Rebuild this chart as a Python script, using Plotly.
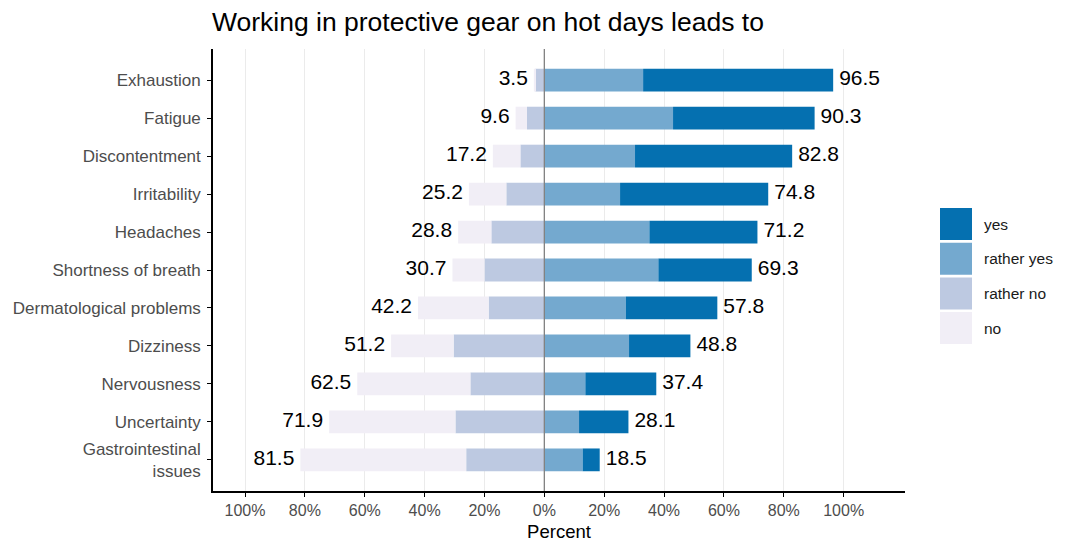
import plotly.graph_objects as go

categories = ["Exhaustion", "Fatigue", "Discontentment", "Irritability", "Headaches",
              "Shortness of breath", "Dermatological problems", "Dizziness",
              "Nervousness", "Uncertainty", "Gastrointestinal<br>issues"]
yes_vals = [63.5, 47.3, 52.5, 49.5, 36.1, 31.2, 30.6, 20.5, 23.7, 16.5, 5.7]
rather_yes_vals = [33.0, 43.0, 30.3, 25.3, 35.1, 38.1, 27.2, 28.3, 13.7, 11.6, 12.8]
rather_no_vals = [3.0, 5.8, 8.0, 12.7, 17.7, 20.0, 18.6, 30.3, 24.7, 29.7, 26.1]
no_vals = [0.5, 3.8, 9.2, 12.5, 11.1, 10.7, 23.6, 20.9, 37.8, 42.2, 55.4]

legend_labels = ["yes", "rather yes", "rather no", "no"]
colors = {"yes": "#0570b0", "rather yes": "#74a9cf", "rather no": "#bdc9e1", "no": "#f1eef6"}

tick_vals = [-100, -80, -60, -40, -20, 0, 20, 40, 60, 80, 100]
tick_text = ["100%", "80%", "60%", "40%", "20%", "0%", "20%", "40%", "60%", "80%", "100%"]

FONT = "Liberation Sans, Arial, sans-serif"

fig = go.Figure()
# negative side: rather no closest to zero, then no
fig.add_trace(go.Bar(y=categories, x=[-v for v in rather_no_vals], orientation="h",
                     marker=dict(color=colors["rather no"], line=dict(width=0)), width=0.6,
                     name="rather no", showlegend=False))
fig.add_trace(go.Bar(y=categories, x=[-v for v in no_vals], orientation="h",
                     marker=dict(color=colors["no"], line=dict(width=0)), width=0.6,
                     name="no", showlegend=False))
fig.add_trace(go.Bar(y=categories, x=rather_yes_vals, orientation="h",
                     marker=dict(color=colors["rather yes"], line=dict(width=0)), width=0.6,
                     name="rather yes", showlegend=False))
fig.add_trace(go.Bar(y=categories, x=yes_vals, orientation="h",
                     marker=dict(color=colors["yes"], line=dict(width=0)), width=0.6,
                     name="yes", showlegend=False))

neg_tot = [round(a + b, 1) for a, b in zip(rather_no_vals, no_vals)]
pos_tot = [round(a + b, 1) for a, b in zip(rather_yes_vals, yes_vals)]

fig.add_trace(go.Scatter(y=categories, x=[-v for v in neg_tot], mode="markers+text",
                         marker=dict(size=8, color="rgba(0,0,0,0)"),
                         text=[f"{v:.1f}" for v in neg_tot], textposition="middle left",
                         textfont=dict(size=21, color="black", family=FONT),
                         showlegend=False, hoverinfo="skip"))
fig.add_trace(go.Scatter(y=categories, x=pos_tot, mode="markers+text",
                         marker=dict(size=8, color="rgba(0,0,0,0)"),
                         text=[f"{v:.1f}" for v in pos_tot], textposition="middle right",
                         textfont=dict(size=21, color="black", family=FONT),
                         showlegend=False, hoverinfo="skip"))

# zero line
fig.add_shape(type="line", xref="x", yref="paper", x0=0, x1=0, y0=0, y1=1,
              line=dict(color="#808080", width=1.3), layer="above")

# custom legend (large squares like ggplot)
plot_l, plot_r, plot_t, plot_b = 213, 905, 49, 491
W = plot_r - plot_l
H = plot_b - plot_t
def px(pix):
    return (pix - plot_l) / W
def py(pix):
    return (plot_b - pix) / H
for i, lab in enumerate(legend_labels):
    y0 = 208 + i * 34.7
    fig.add_shape(type="rect", xref="paper", yref="paper",
                  x0=px(940), x1=px(972), y0=py(y0 + 32), y1=py(y0),
                  fillcolor=colors[lab], line=dict(width=0))
    fig.add_annotation(xref="paper", yref="paper", x=px(982), y=py(y0 + 16),
                       text=lab, showarrow=False, xanchor="left", yanchor="middle",
                       font=dict(size=15.5, color="#1a1a1a", family=FONT))

fig.update_layout(
    barmode="relative",
    width=1065, height=542,
    margin=dict(l=plot_l, r=1065 - plot_r, t=plot_t, b=542 - plot_b, autoexpand=False),
    paper_bgcolor="white", plot_bgcolor="white",
    font=dict(family=FONT),
    title=dict(text="Working in protective gear on hot days leads to",
               x=212 / 1065, xanchor="left", y=1 - 22 / 542, yanchor="middle",
               font=dict(size=26.5, color="black", family=FONT)),
    xaxis=dict(range=[-110.7, 120.5], tickvals=tick_vals, ticktext=tick_text,
               showgrid=True, gridcolor="#ebebeb", gridwidth=1.2, zeroline=False,
               showline=True, linecolor="black", linewidth=1.6,
               ticks="outside", ticklen=4, tickcolor="black", tickwidth=1.2,
               ticklabelstandoff=0, automargin=False,
               tickfont=dict(size=16, color="#4d4d4d", family=FONT),
               title=dict(text="Percent", font=dict(size=18.5, color="black", family=FONT),
                          standoff=18)),
    yaxis=dict(categoryorder="array", categoryarray=categories,
               range=[10.82, -0.82], showgrid=False, zeroline=False,
               showline=True, linecolor="black", linewidth=1.6,
               ticks="outside", ticklen=4, tickcolor="black", tickwidth=1.2,
               ticklabelstandoff=3, automargin=False,
               tickfont=dict(size=17, color="#4d4d4d", family=FONT)),
)

fig.write_html("out.html", config={"displayModeBar": False},
               post_script="document.body.style.margin='0';")
